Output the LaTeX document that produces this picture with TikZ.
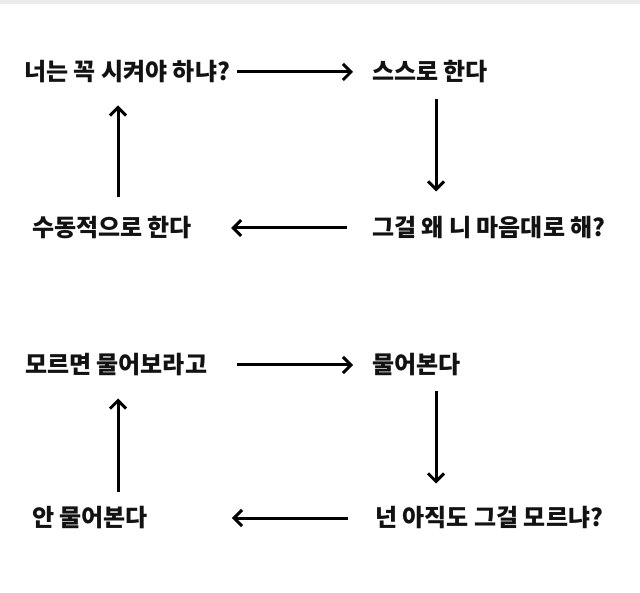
\documentclass[tikz,border=0pt]{standalone}
\usepackage{fontspec}
\setmainfont{Noto Sans CJK KR}
\usetikzlibrary{arrows.meta}
\begin{document}
\begin{tikzpicture}[x=1pt,y=-1pt,
  lbl/.style={anchor=west,inner sep=0pt,outer sep=0pt,text height=20pt,text depth=3pt,
    font=\fontsize{24}{26}\selectfont\bfseries,text=black!93},
  arr/.style={line width=3pt,-{Straight Barb[length=8pt,width=16pt]}}]
\useasboundingbox (0,0) rectangle (640,593);
\fill[white] (0,0) rectangle (640,593);
\fill[black!8] (0,0) rectangle (640,4);
\coordinate (cl) at (118,0);
\coordinate (cr) at (436,0);
% top cycle
\node[lbl] (a1) at (24,72) {너는 꼭 시켜야 하냐?};
\node[lbl] (a2) at (372,72) {스스로 한다};
\node[lbl] (a3) at (372,228) {그걸 왜 니 마음대로 해?};
\node[lbl] (a4) at (32,228) {수동적으로 한다};
\draw[arr,shorten <=7pt,shorten >=19pt] (a1.east) -- (a2.west);
\draw[arr,shorten <=16pt,shorten >=25pt] (a2.south -| cr) -- (a3.north -| cr);
\draw[arr,shorten <=25pt,shorten >=39pt] (a3.west) -- (a4.east);
\draw[arr,shorten <=19pt,shorten >=22pt] (a4.north -| cl) -- (a1.south -| cl);
% bottom cycle
\node[lbl] (b1) at (25,365) {모르면 물어보라고};
\node[lbl] (b2) at (372,365) {물어본다};
\node[lbl] (b3) at (375,518) {넌 아직도 그걸 모르냐?};
\node[lbl] (b4) at (32,518) {안 물어본다};
\draw[arr,shorten <=30pt,shorten >=19pt] (b1.east) -- (b2.west);
\draw[arr,shorten <=15pt,shorten >=23pt] (b2.south -| cr) -- (b3.north -| cr);
\draw[arr,shorten <=27pt,shorten >=84pt] (b3.west) -- (b4.east);
\draw[arr,shorten <=15pt,shorten >=22pt] (b4.north -| cl) -- (b1.south -| cl);
\end{tikzpicture}
\end{document}
